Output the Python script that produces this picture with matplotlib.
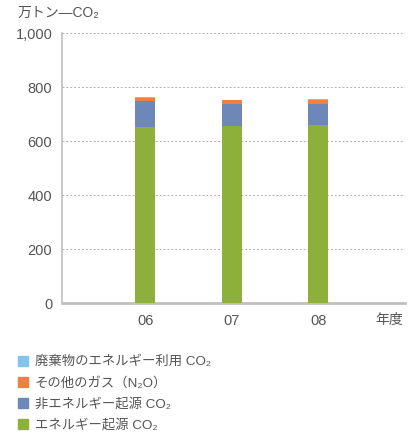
import matplotlib
matplotlib.use('Agg')
import matplotlib.pyplot as plt
from matplotlib.patches import Rectangle

plt.rcParams['font.family'] = ['Liberation Sans', 'Noto Sans CJK JP', 'DejaVu Sans']

# 年度
years = ['06', '07', '08']
# 万トン-CO2
energy_co2 = [652, 656, 659]
non_energy_co2 = [96, 82, 79]
other_gas_n2o = [12, 15, 15]
waste_energy_co2 = [3, 0, 3]

series_labels = ['廃棄物のエネルギー利用 CO₂', 'その他のガス（N₂O）', '非エネルギー起源 CO₂', 'エネルギー起源 CO₂']
colors = ['#82c4ea', '#f07f45', '#6c87b8', '#8db03b']

text_gray = '#555555'
line_gray = '#c0c0c0'

fig = plt.figure(figsize=(4.17, 4.39), dpi=100)
ax = fig.add_axes([62 / 417, 1 - 304 / 439, 343 / 417, 270 / 439])

x = list(range(len(years)))
w = 0.23
bottom = [0, 0, 0]
for vals, c in zip([energy_co2, non_energy_co2, other_gas_n2o, waste_energy_co2], colors[::-1]):
    ax.bar(x, vals, width=w, bottom=bottom, color=c, zorder=3)
    bottom = [b + v for b, v in zip(bottom, vals)]

ax.set_xlim(-0.96, 3.0)
ax.set_ylim(0, 1000)
ax.set_yticks([0, 200, 400, 600, 800, 1000])
ax.set_yticklabels(['0', '200', '400', '600', '800', '1,000'])
ax.set_xticks(x)
ax.set_xticklabels(years)
ax.tick_params(axis='both', length=0, labelsize=10.5, labelcolor=text_gray)
ax.tick_params(axis='y', pad=7)
ax.tick_params(axis='x', pad=7)

ax.yaxis.grid(True, linestyle=(0, (2, 2)), color='#b0b0b0', linewidth=0.7, zorder=0)
ax.set_axisbelow(True)
for s in ['top', 'right']:
    ax.spines[s].set_visible(False)
ax.spines['left'].set_color(line_gray)
ax.spines['left'].set_linewidth(1.2)
ax.spines['bottom'].set_color(line_gray)
ax.spines['bottom'].set_linewidth(2)

fig.text(18 / 417, 1 - 13 / 439, '万トン—CO₂', fontsize=10, color=text_gray, va='center', ha='left')
fig.text(375 / 417, 1 - 320 / 439, '年度', fontsize=10, color=text_gray, va='center', ha='left')

# 凡例
for i, (lab, c) in enumerate(zip(series_labels, colors)):
    yc = 1 - (362 + i * 21) / 439
    fig.patches.append(Rectangle((18 / 417, yc - 5 / 439), 10 / 417, 10 / 439,
                                 transform=fig.transFigure, color=c, figure=fig))
    fig.text(35 / 417, yc, lab, fontsize=9.6, color=text_gray, va='center', ha='left')

fig.savefig('out.png', dpi=100)
